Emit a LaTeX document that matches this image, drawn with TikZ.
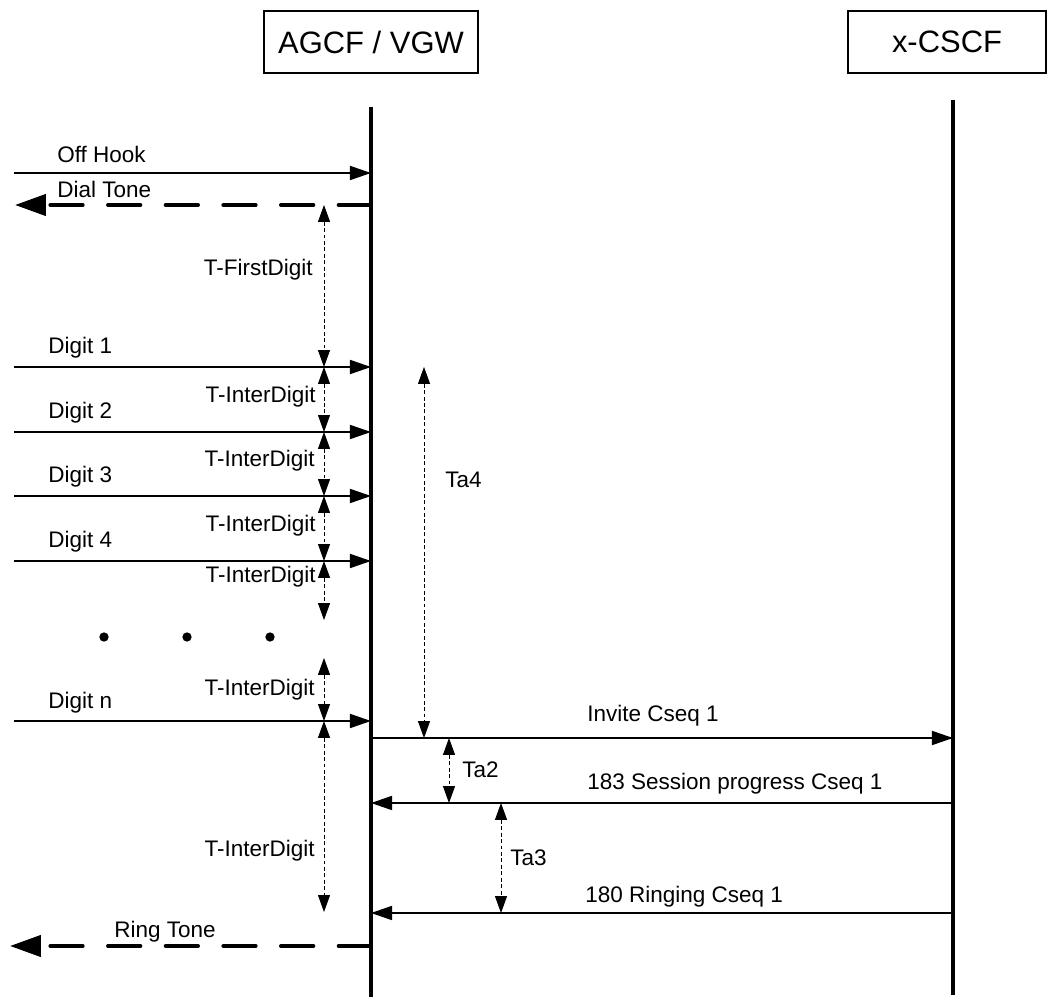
\documentclass[tikz,border=0pt]{standalone}
\usepackage{fontspec}
\setmainfont{Liberation Sans}
\usetikzlibrary{positioning,arrows.meta}

\begin{document}
\begin{tikzpicture}[x=0.025cm, y=-0.025cm,
    entBox/.style={rectangle, draw, line width=0.8pt, minimum height=1.55cm, font=\fontsize{22}{26}\selectfont},
    lifeLine/.style={line width=2.4pt},
    msgArrow/.style={-{Triangle[length=15pt,width=10pt]}, line width=1.2pt},
    toneArrow/.style={-{Triangle[length=22pt,width=15pt]}, line width=2.8pt, line cap=round, dash pattern=on 23pt off 18pt},
    timerArrow/.style={{Triangle[length=12pt,width=8.5pt]}-{Triangle[length=12pt,width=8.5pt]}, line width=0.7pt, dash pattern=on 2.8pt off 1.8pt},
    msgLabel/.style={font=\fontsize{16}{19}\selectfont, inner sep=0pt}
]
    \useasboundingbox (0,0) rectangle (1048,997);

    \node[entBox, minimum width=5.35cm] (agcf) at (371,42) {AGCF / VGW};
    \node[entBox, minimum width=4.95cm] (cscf) at (947,42) {x-CSCF};

    \coordinate (agcfTop) at (371,107);
    \coordinate (agcfBot) at (371,997);
    \coordinate (cscfTop) at (953,100);
    \coordinate (cscfBot) at (953,995);
    \draw[lifeLine] (agcfTop) -- (agcfBot);
    \draw[lifeLine] (cscfTop) -- (cscfBot);

    % line side
    \coordinate (offU) at (14,173);   \coordinate (offA) at (371,173);
    \coordinate (dialU) at (15,205);  \coordinate (dialA) at (371,205);
    \coordinate (dig1U) at (14,367);  \coordinate (dig1A) at (371,367);
    \coordinate (dig2U) at (14,432);  \coordinate (dig2A) at (371,432);
    \coordinate (dig3U) at (14,496);  \coordinate (dig3A) at (371,496);
    \coordinate (dig4U) at (14,561);  \coordinate (dig4A) at (371,561);
    \coordinate (dignU) at (14,721);  \coordinate (dignA) at (371,721);
    \coordinate (ringU) at (10,946);  \coordinate (ringA) at (371,946);

    \draw[msgArrow] (offU) -- (offA);
    \draw[toneArrow] (dialA) -- (dialU);
    \draw[msgArrow] (dig1U) -- (dig1A);
    \draw[msgArrow] (dig2U) -- (dig2A);
    \draw[msgArrow] (dig3U) -- (dig3A);
    \draw[msgArrow] (dig4U) -- (dig4A);
    \draw[msgArrow] (dignU) -- (dignA);
    \draw[toneArrow] (ringA) -- (ringU);

    \node[msgLabel, anchor=base west] (offLbl) at (57,163) {Off Hook};
    \node[msgLabel, anchor=base west] (dialLbl) at (57,198) {Dial Tone};
    \node[msgLabel, anchor=base west] (dig1Lbl) at (48,354) {Digit 1};
    \node[msgLabel, anchor=base west] (dig2Lbl) at (48,419) {Digit 2};
    \node[msgLabel, anchor=base west] (dig3Lbl) at (48,483) {Digit 3};
    \node[msgLabel, anchor=base west] (dig4Lbl) at (48,548) {Digit 4};
    \node[msgLabel, anchor=base west] (dignLbl) at (48,708) {Digit n};
    \node[msgLabel, anchor=base west] (ringLbl) at (114,937) {Ring Tone};

    \fill (104,637) circle[radius=3.3pt];
    \fill (187,637) circle[radius=3.3pt];
    \fill (270,637) circle[radius=3.3pt];

    % network side
    \coordinate (invA) at (371,738);  \coordinate (invC) at (953,738);
    \coordinate (sesA) at (371,803);  \coordinate (sesC) at (953,803);
    \coordinate (rngA) at (371,913);  \coordinate (rngC) at (953,913);

    \draw[msgArrow] (invA) -- (invC);
    \draw[msgArrow] (sesC) -- (sesA);
    \draw[msgArrow] (rngC) -- (rngA);

    \node[msgLabel, anchor=base west] (invLbl) at (587,722) {Invite Cseq 1};
    \node[msgLabel, anchor=base west] (sesLbl) at (587,789) {183 Session progress Cseq 1};
    \node[msgLabel, anchor=base west] (rngLbl) at (585,902) {180 Ringing Cseq 1};

    % timers
    \coordinate (tFirstTop) at (324,205);  \coordinate (tFirstBot) at (324,367);
    \coordinate (tInt1Top) at (324,367);   \coordinate (tInt1Bot) at (324,432);
    \coordinate (tInt2Top) at (324,432);   \coordinate (tInt2Bot) at (324,496);
    \coordinate (tInt3Top) at (324,496);   \coordinate (tInt3Bot) at (324,561);
    \coordinate (tInt4Top) at (324,561);   \coordinate (tInt4Bot) at (324,620);
    \coordinate (tInt5Top) at (324,658);   \coordinate (tInt5Bot) at (324,721);
    \coordinate (tInt6Top) at (324,721);   \coordinate (tInt6Bot) at (324,912);
    \coordinate (ta4Top) at (424,367);     \coordinate (ta4Bot) at (424,738);
    \coordinate (ta2Top) at (449,738);     \coordinate (ta2Bot) at (449,803);
    \coordinate (ta3Top) at (501,803);     \coordinate (ta3Bot) at (501,913);

    \draw[timerArrow] (tFirstTop) -- (tFirstBot);
    \draw[timerArrow] (tInt1Top) -- (tInt1Bot);
    \draw[timerArrow] (tInt2Top) -- (tInt2Bot);
    \draw[timerArrow] (tInt3Top) -- (tInt3Bot);
    \draw[timerArrow] (tInt4Top) -- (tInt4Bot);
    \draw[timerArrow] (tInt5Top) -- (tInt5Bot);
    \draw[timerArrow] (tInt6Top) -- (tInt6Bot);
    \draw[timerArrow] (ta4Top) -- (ta4Bot);
    \draw[timerArrow] (ta2Top) -- (ta2Bot);
    \draw[timerArrow] (ta3Top) -- (ta3Bot);

    \node[msgLabel, anchor=east] (tFirstLbl) at (313,270) {T-FirstDigit};
    \node[msgLabel, anchor=east] (tInt1Lbl) at (316,397) {T-InterDigit};
    \node[msgLabel, anchor=east] (tInt2Lbl) at (315,461) {T-InterDigit};
    \node[msgLabel, anchor=east] (tInt3Lbl) at (316,526) {T-InterDigit};
    \node[msgLabel, anchor=east] (tInt4Lbl) at (316,577) {T-InterDigit};
    \node[msgLabel, anchor=east] (tInt5Lbl) at (315,690) {T-InterDigit};
    \node[msgLabel, anchor=east] (tInt6Lbl) at (315,851) {T-InterDigit};
    \node[msgLabel, anchor=west] (ta4Lbl) at (445,480) {Ta4};
    \node[msgLabel, anchor=west] (ta2Lbl) at (462,770) {Ta2};
    \node[msgLabel, anchor=west] (ta3Lbl) at (510,858) {Ta3};
\end{tikzpicture}
\end{document}
